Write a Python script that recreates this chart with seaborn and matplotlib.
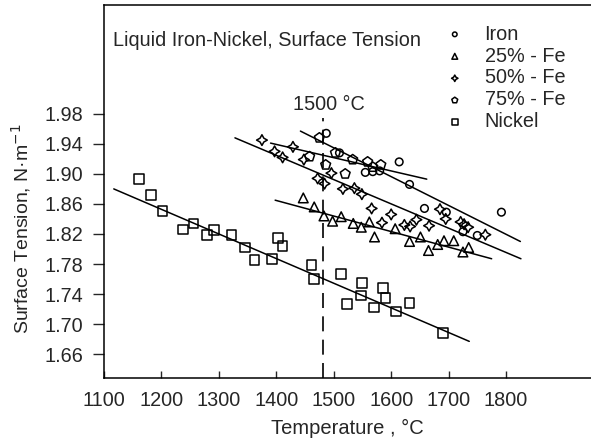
import numpy as np
import pandas as pd
import seaborn as sns
import matplotlib.pyplot as plt

# values (temperature in °C, surface tension in N/m)
iron_t = [1487, 1510, 1555, 1568, 1580, 1614, 1632, 1658, 1696, 1725, 1750, 1792]
iron_st = [1.954, 1.928, 1.902, 1.903, 1.904, 1.916, 1.886, 1.854, 1.849, 1.823, 1.818, 1.849]

fe25_t = [1447, 1466, 1483, 1498, 1513, 1534, 1548, 1562, 1571, 1607, 1632, 1651,
          1665, 1681, 1692, 1709, 1725, 1735]
fe25_st = [1.868, 1.856, 1.844, 1.837, 1.843, 1.834, 1.829, 1.836, 1.816, 1.827, 1.810, 1.816,
           1.798, 1.806, 1.811, 1.811, 1.796, 1.802]

fe50_t = [1375, 1397, 1411, 1429, 1448, 1472, 1484, 1496, 1516, 1536, 1549, 1566, 1584,
          1600, 1623, 1633, 1644, 1666, 1685, 1695, 1721, 1727, 1734, 1764]
fe50_st = [1.945, 1.930, 1.922, 1.936, 1.919, 1.894, 1.887, 1.901, 1.880, 1.881, 1.873, 1.854, 1.835,
           1.846, 1.832, 1.830, 1.839, 1.831, 1.853, 1.840, 1.836, 1.833, 1.829, 1.819]

fe75_t = [1458, 1475, 1486, 1503, 1520, 1533, 1559, 1568, 1582]
fe75_st = [1.923, 1.948, 1.912, 1.928, 1.900, 1.919, 1.916, 1.909, 1.912]

nickel_t = [1161, 1182, 1202, 1238, 1256, 1279, 1292, 1322, 1346, 1362, 1392, 1403, 1411,
            1461, 1466, 1513, 1523, 1549, 1548, 1570, 1586, 1590, 1608, 1632, 1690]
nickel_st = [1.893, 1.872, 1.851, 1.826, 1.834, 1.819, 1.825, 1.819, 1.802, 1.785, 1.787, 1.815, 1.804,
             1.779, 1.760, 1.767, 1.727, 1.755, 1.738, 1.722, 1.748, 1.735, 1.717, 1.728, 1.688]

# end points of the fitted lines
iron_fit_t, iron_fit_st = [1442, 1825], [1.957, 1.810]
fe25_fit_t, fe25_fit_st = [1398, 1775], [1.865, 1.787]
fe50_fit_t, fe50_fit_st = [1328, 1826], [1.948, 1.787]
fe75_fit_t, fe75_fit_st = [1390, 1662], [1.941, 1.893]
nickel_fit_t, nickel_fit_st = [1117, 1736], [1.880, 1.677]

mp_t = 1482  # dashed marker line ("1500 °C")

x_ticks = [1100, 1200, 1300, 1400, 1500, 1600, 1700, 1800]
y_ticks = [1.66, 1.70, 1.74, 1.78, 1.82, 1.86, 1.90, 1.94, 1.98]

sns.set_style("ticks")
plt.rcParams["font.family"] = ["Liberation Sans", "DejaVu Sans"]
plt.rcParams["font.size"] = 14.3

fig = plt.figure(figsize=(5.91, 4.47), dpi=100)
ax = fig.add_axes([0.176, 0.154, 0.824, 0.835])

series = [
    ("Iron", iron_t, iron_st, "o", 30),
    ("25% - Fe", fe25_t, fe25_st, "^", 48),
    ("50% - Fe", fe50_t, fe50_st, (4, 1, 0), 60),
    ("75% - Fe", fe75_t, fe75_st, "p", 55),
    ("Nickel", nickel_t, nickel_st, "s", 48),
]
for name, t, st, mk, sz in series:
    sns.scatterplot(x=t, y=st, marker=mk, s=sz, facecolor="none", edgecolor="black",
                    linewidth=1.1, label=name, ax=ax, zorder=3)

for ft, fs in [(iron_fit_t, iron_fit_st), (fe25_fit_t, fe25_fit_st), (fe50_fit_t, fe50_fit_st),
               (fe75_fit_t, fe75_fit_st), (nickel_fit_t, nickel_fit_st)]:
    sns.lineplot(x=ft, y=fs, color="black", lw=1.1, ax=ax, legend=False)

ax.plot([mp_t, mp_t], [1.628, 1.975], color="black", lw=1.2, dashes=(9, 5))
ax.text(mp_t + 10, 1.993, "1500 °C", ha="center", va="center")
ax.text(0.019, 0.905, "Liquid Iron-Nickel, Surface Tension", transform=ax.transAxes,
        ha="left", va="center")

ax.set_xlim(1100, 1948)
ax.set_ylim(1.628, 2.125)
ax.set_xticks(x_ticks)
ax.set_yticks(y_ticks)
ax.set_yticklabels([f"{v:.2f}" for v in y_ticks])
ax.tick_params(axis="x", direction="in", length=5, width=1, pad=9)
ax.tick_params(axis="y", direction="out", length=8, width=1, pad=7)
ax.spines["right"].set_visible(False)
for s in ["left", "top", "bottom"]:
    ax.spines[s].set_linewidth(1.1)
    ax.spines[s].set_color("black")

ax.set_xlabel("Temperature , °C", labelpad=7, fontsize=14.5)
ax.set_ylabel("Surface Tension, N·m$^{-1}$", fontsize=14)
ax.yaxis.set_label_coords(-0.145, 0.40)

leg = ax.legend(loc="upper left", bbox_to_anchor=(0.655, 0.99), frameon=False, markerscale=0.6,
                handletextpad=0.7, labelspacing=0.15, borderaxespad=0.4, handlelength=1.6)

fig.savefig("out.png", dpi=100)
